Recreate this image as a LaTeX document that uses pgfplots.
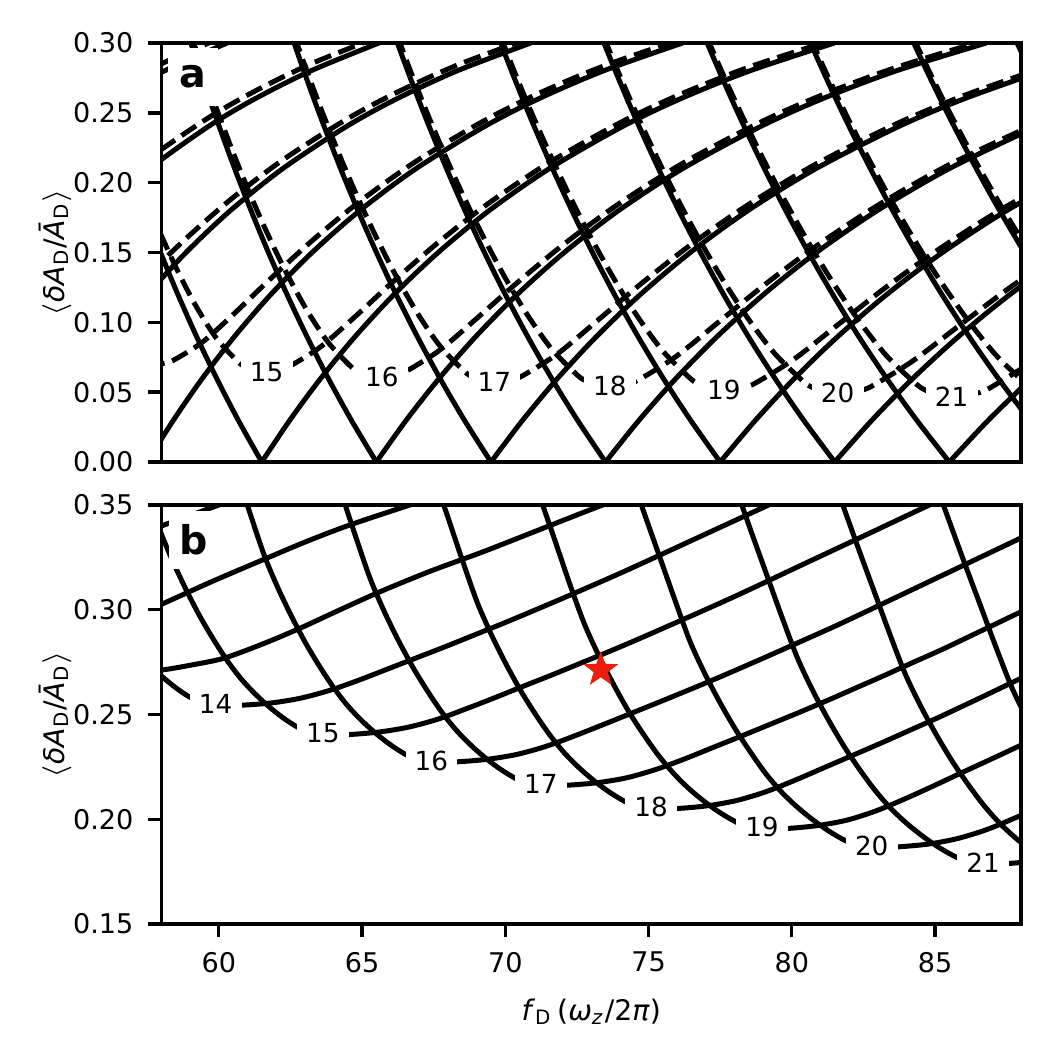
\documentclass[border=0pt]{standalone}
\usepackage{fontspec}
\setmainfont{DejaVu Sans}
\usepackage{pgfplots}
\pgfplotsset{compat=1.18}
\definecolor{starred}{RGB}{236,28,14}
\pgfdeclareplotmark{fstar}{%
 \pgfpathmoveto{\pgfpointpolar{90}{\pgfplotmarksize}}%
 \pgfpathlineto{\pgfpointpolar{126}{0.4\pgfplotmarksize}}%
 \pgfpathlineto{\pgfpointpolar{162}{\pgfplotmarksize}}%
 \pgfpathlineto{\pgfpointpolar{198}{0.4\pgfplotmarksize}}%
 \pgfpathlineto{\pgfpointpolar{234}{\pgfplotmarksize}}%
 \pgfpathlineto{\pgfpointpolar{270}{0.4\pgfplotmarksize}}%
 \pgfpathlineto{\pgfpointpolar{306}{\pgfplotmarksize}}%
 \pgfpathlineto{\pgfpointpolar{342}{0.4\pgfplotmarksize}}%
 \pgfpathlineto{\pgfpointpolar{18}{\pgfplotmarksize}}%
 \pgfpathlineto{\pgfpointpolar{54}{0.4\pgfplotmarksize}}%
 \pgfpathclose\pgfusepathqfillstroke}
\pgfplotsset{
 base/.style={scale only axis, width=206.28pt, height=100.56pt, xmin=58, xmax=88,
   axis line style={line width=0.8pt}, every tick/.style={black, line width=0.8pt},
   major tick length=3.2pt, tick align=outside, tick pos=left, scaled y ticks=false,
   /pgf/number format/assume math mode=true,
   tick label style={font=\fontsize{6.5}{7.8}\selectfont},
   yticklabel style={/pgf/number format/fixed, /pgf/number format/fixed zerofill, /pgf/number format/precision=2},
   label style={font=\fontsize{6.8}{8}\selectfont},
   ylabel style={at={(axis description cs:-0.124,0.5)}, anchor=center},
   ylabel={$\langle$\textit{δA}\textsubscript{D}/\textit{Ā}\textsubscript{D}$\rangle$}},
 sol/.style={black, line width=1.2pt, smooth, tension=0.5},
 dsh/.style={black, line width=1.2pt, smooth, tension=0.5, dash pattern=on 4.2pt off 1.9pt}
}
\tikzset{
 clab/.style={fill=white, inner xsep=2.2pt, inner ysep=0.8pt, font=\fontsize{6.3}{7}\selectfont},
 plab/.style={fill=white, inner sep=0pt, minimum width=12pt, minimum height=14pt, font=\bfseries\fontsize{9.5}{11}\selectfont}
}
\begin{document}
\begin{tikzpicture}
\path[use as bounding box] (-38.76pt,-33.12pt) rectangle (216.12pt,221.76pt);
% ---------------- panel a ----------------
\begin{axis}[base, at={(0pt,110.88pt)}, ymin=0, ymax=0.30,
  ytick={0,0.05,0.10,0.15,0.20,0.25,0.30}, xtick=\empty]
% solid R branches
\addplot[sol] coordinates {(54.800,0.24) (56.307,0.26) (58.097,0.28) (60.288,0.30)};
\addplot[sol] coordinates {(55.887,0.18) (57.575,0.21) (59.619,0.24) (61.257,0.26) (63.204,0.28) (65.588,0.30)};
\addplot[sol] coordinates {(55.294,0.06) (56.341,0.09) (57.517,0.12) (58.856,0.15) (60.403,0.18) (62.228,0.21) (64.437,0.24) (66.207,0.26) (68.311,0.28) (70.888,0.30)};
\addplot[sol] coordinates {(57.5,0) (58.417,0.03) (59.429,0.06) (60.553,0.09) (61.818,0.12) (63.256,0.15) (64.919,0.18) (66.881,0.21) (69.255,0.24) (71.157,0.26) (73.419,0.28) (76.188,0.30)};
\addplot[sol] coordinates {(61.5,0) (62.481,0.03) (63.563,0.06) (64.766,0.09) (66.118,0.12) (67.657,0.15) (69.435,0.18) (71.533,0.21) (74.072,0.24) (76.107,0.26) (78.526,0.28) (81.488,0.30)};
\addplot[sol] coordinates {(65.5,0) (66.545,0.03) (67.697,0.06) (68.978,0.09) (70.418,0.12) (72.057,0.15) (73.951,0.18) (76.186,0.21) (78.890,0.24) (81.058,0.26) (83.634,0.28) (86.788,0.30)};
\addplot[sol] coordinates {(69.5,0) (70.609,0.03) (71.831,0.06) (73.190,0.09) (74.719,0.12) (76.458,0.15) (78.468,0.18) (80.838,0.21) (83.708,0.24) (86.008,0.26) (88.741,0.28)};
\addplot[sol] coordinates {(73.5,0) (74.672,0.03) (75.965,0.06) (77.403,0.09) (79.019,0.12) (80.858,0.15) (82.984,0.18) (85.491,0.21) (88.526,0.24)};
\addplot[sol] coordinates {(77.5,0) (78.736,0.03) (80.099,0.06) (81.615,0.09) (83.319,0.12) (85.259,0.15) (87.500,0.18) (90.143,0.21)};
\addplot[sol] coordinates {(81.5,0) (82.800,0.03) (84.234,0.06) (85.828,0.09) (87.620,0.12) (89.659,0.15)};
\addplot[sol] coordinates {(85.5,0) (86.864,0.03) (88.368,0.06)};
% solid L branches
\addplot[sol] coordinates {(61.5,0) (60.678,0.03) (59.922,0.06) (59.221,0.09) (58.571,0.12) (57.963,0.15)};
\addplot[sol] coordinates {(65.5,0) (64.625,0.03) (63.819,0.06) (63.073,0.09) (62.380,0.12) (61.733,0.15) (61.126,0.18) (60.555,0.21) (60.018,0.24) (59.674,0.26) (59.344,0.28) (59.025,0.30)};
\addplot[sol] coordinates {(69.5,0) (68.571,0.03) (67.717,0.06) (66.925,0.09) (66.190,0.12) (65.503,0.15) (64.859,0.18) (64.253,0.21) (63.683,0.24) (63.319,0.26) (62.968,0.28) (62.629,0.30)};
\addplot[sol] coordinates {(73.5,0) (72.518,0.03) (71.614,0.06) (70.777,0.09) (69.999,0.12) (69.273,0.15) (68.592,0.18) (67.951,0.21) (67.348,0.24) (66.963,0.26) (66.592,0.28) (66.234,0.30)};
\addplot[sol] coordinates {(77.5,0) (76.465,0.03) (75.511,0.06) (74.629,0.09) (73.809,0.12) (73.043,0.15) (72.325,0.18) (71.650,0.21) (71.013,0.24) (70.607,0.26) (70.217,0.28) (69.838,0.30)};
\addplot[sol] coordinates {(81.5,0) (80.411,0.03) (79.409,0.06) (78.480,0.09) (77.618,0.12) (76.813,0.15) (76.057,0.18) (75.348,0.21) (74.678,0.24) (74.251,0.26) (73.841,0.28) (73.443,0.30)};
\addplot[sol] coordinates {(85.5,0) (84.358,0.03) (83.306,0.06) (82.332,0.09) (81.428,0.12) (80.583,0.15) (79.790,0.18) (79.046,0.21) (78.344,0.24) (77.896,0.26) (77.465,0.28) (77.047,0.30)};
\addplot[sol] coordinates {(89.5,0) (88.304,0.03) (87.203,0.06) (86.184,0.09) (85.237,0.12) (84.353,0.15) (83.523,0.18) (82.744,0.21) (82.008,0.24) (81.540,0.26) (81.089,0.28) (80.652,0.30)};
\addplot[sol] coordinates {(90.036,0.09) (89.047,0.12) (88.123,0.15) (87.256,0.18) (86.442,0.21) (85.674,0.24) (85.184,0.26) (84.713,0.28) (84.257,0.30)};
\addplot[sol] coordinates {(90.140,0.21) (89.339,0.24) (88.828,0.26) (88.337,0.28) (87.861,0.30)};
% dashed tongues
\addplot[dsh] coordinates {(56.307,0.26678) (58.097,0.28609) (60.288,0.30550)};
\addplot[dsh] coordinates {(55.887,0.18935) (57.575,0.21751) (59.619,0.24620) (61.257,0.26551) (63.204,0.28495) (65.588,0.30447)};
\addplot[dsh] coordinates {(56.341,0.10940) (57.517,0.13354) (58.856,0.16002) (60.403,0.18775) (62.228,0.21622) (64.437,0.24512) (66.207,0.26455) (68.311,0.28408) (70.888,0.30369)};
\addplot[dsh] coordinates {(57.5,0.06957) (57.796,0.06978) (58.102,0.07078) (58.417,0.07285) (59.429,0.08583) (60.553,0.10656) (61.818,0.13145) (63.256,0.15843) (64.919,0.18651) (66.881,0.21521) (69.255,0.24429) (71.157,0.26381) (73.419,0.28341) (76.188,0.30309)};
\addplot[dsh] coordinates {(57.963,0.16349) (58.571,0.13649) (59.221,0.11104) (59.922,0.08849) (60.678,0.07163) (60.945,0.06805) (61.218,0.06580) (61.5,0.06504) (61.817,0.06528) (62.144,0.06639) (62.481,0.06865) (63.563,0.08260) (64.766,0.10425) (66.118,0.12978) (67.657,0.15717) (69.435,0.18552) (71.533,0.21442) (74.072,0.24363) (76.107,0.26322) (78.526,0.28289) (81.488,0.30261)};
\addplot[dsh] coordinates {(59.025,0.30615) (59.344,0.28658) (59.674,0.26708) (60.018,0.24765) (60.555,0.21870) (61.126,0.19008) (61.733,0.16196) (62.380,0.13465) (63.073,0.10876) (63.819,0.08561) (64.625,0.06804) (64.909,0.06426) (65.200,0.06188) (65.5,0.06107) (65.837,0.06133) (66.186,0.06254) (66.545,0.06501) (67.697,0.07988) (68.978,0.10235) (70.418,0.12842) (72.057,0.15615) (73.951,0.18473) (76.186,0.21378) (78.890,0.24311) (81.058,0.26276) (83.634,0.28247) (86.788,0.30223)};
\addplot[dsh] coordinates {(62.629,0.30547) (62.968,0.28585) (63.319,0.26630) (63.683,0.24681) (64.253,0.21774) (64.859,0.18898) (65.503,0.16066) (66.190,0.13309) (66.925,0.10683) (67.717,0.08314) (68.571,0.06490) (68.872,0.06093) (69.182,0.05842) (69.5,0.05755) (69.858,0.05784) (70.228,0.05916) (70.609,0.06183) (71.831,0.07758) (73.190,0.10079) (74.719,0.12731) (76.458,0.15533) (78.468,0.18409) (80.838,0.21327) (83.708,0.24268) (86.008,0.26238) (88.741,0.28213)};
\addplot[dsh] coordinates {(66.234,0.30490) (66.592,0.28524) (66.963,0.26564) (67.348,0.24609) (67.951,0.21694) (68.592,0.18805) (69.273,0.15957) (69.999,0.13176) (70.777,0.10517) (71.614,0.08100) (72.518,0.06214) (72.836,0.05798) (73.163,0.05533) (73.5,0.05442) (73.879,0.05474) (74.270,0.05616) (74.672,0.05904) (75.965,0.07563) (77.403,0.09947) (79.019,0.12639) (80.858,0.15465) (82.984,0.18357) (85.491,0.21284) (88.526,0.24233)};
\addplot[dsh] coordinates {(69.838,0.30441) (70.217,0.28472) (70.607,0.26507) (71.013,0.24549) (71.650,0.21625) (72.325,0.18725) (73.043,0.15863) (73.809,0.13063) (74.629,0.10375) (75.511,0.07915) (76.465,0.05970) (76.800,0.05535) (77.145,0.05257) (77.5,0.05161) (77.899,0.05195) (78.311,0.05349) (78.736,0.05657) (80.099,0.07395) (81.615,0.09837) (83.319,0.12562) (85.259,0.15408) (87.500,0.18313) (90.143,0.21249)};
\addplot[dsh] coordinates {(73.443,0.30399) (73.841,0.28427) (74.251,0.26459) (74.678,0.24497) (75.348,0.21566) (76.057,0.18657) (76.813,0.15783) (77.618,0.12965) (78.480,0.10251) (79.409,0.07752) (80.411,0.05752) (80.764,0.05300) (81.127,0.05009) (81.5,0.04908) (81.920,0.04945) (82.353,0.05110) (82.800,0.05438) (84.234,0.07250) (85.828,0.09744) (87.620,0.12498) (89.659,0.15361)};
\addplot[dsh] coordinates {(77.047,0.30362) (77.465,0.28388) (77.896,0.26418) (78.344,0.24452) (79.046,0.21515) (79.790,0.18598) (80.583,0.15713) (81.428,0.12880) (82.332,0.10143) (83.306,0.07608) (84.358,0.05558) (84.728,0.05088) (85.108,0.04784) (85.5,0.04678) (85.940,0.04718) (86.395,0.04895) (86.864,0.05243) (88.368,0.07125)};
\addplot[dsh] coordinates {(80.652,0.30331) (81.089,0.28354) (81.540,0.26381) (82.008,0.24413) (82.744,0.21470) (83.523,0.18547) (84.353,0.15652) (85.237,0.12805) (86.184,0.10049) (87.203,0.07482) (88.304,0.05383) (88.692,0.04896)};
\addplot[dsh] coordinates {(84.257,0.30303) (84.713,0.28325) (85.184,0.26350) (85.674,0.24378) (86.442,0.21431) (87.256,0.18501) (88.123,0.15598) (89.047,0.12740)};
\addplot[dsh] coordinates {(87.861,0.30279) (88.337,0.28299) (88.828,0.26322)};
\node[clab] at (axis cs:61.67,0.0647) {15};
\node[clab] at (axis cs:65.69,0.0611) {16};
\node[clab] at (axis cs:69.62,0.0575) {17};
\node[clab] at (axis cs:73.65,0.0544) {18};
\node[clab] at (axis cs:77.63,0.0516) {19};
\node[clab] at (axis cs:81.60,0.0492) {20};
\node[clab] at (axis cs:85.58,0.0468) {21};
\node[plab] at (axis cs:59.10,0.2757) {a};
\end{axis}
% ---------------- panel b ----------------
\begin{axis}[base, at={(0pt,0pt)}, ymin=0.15, ymax=0.35,
  ytick={0.15,0.20,0.25,0.30,0.35}, xtick={60,65,70,75,80,85},
  xlabel style={at={(axis description cs:0.5,-0.209)}, anchor=center},
  xlabel={\textit{f}\textsubscript{D}\,(\textit{ω}\textsubscript{\textit{z}}/2\textit{π})}]
\addplot[sol] coordinates {(57.0,0.335) (58.5,0.3425) (60.0,0.350) (61.5,0.3575)};
\addplot[sol] coordinates {(56.0,0.2905) (57.95,0.3023) (59.8,0.3137) (61.67,0.3246) (63.1,0.3328) (64.58,0.3405) (66.67,0.35) (68.5,0.358)};
\addplot[sol] coordinates {(56.02,0.2695) (57,0.2699) (58,0.2712) (59,0.2735) (60.16,0.2768) (61.5,0.2835) (62.84,0.2912) (64.2,0.2998) (65.63,0.3086) (67.4,0.3185) (69.23,0.3277) (71.3,0.3388) (73.3,0.3495) (75.3,0.3597)};
\addplot[sol] coordinates {(57.565,0.274) (58.03,0.268) (58.495,0.2628) (58.96,0.2585) (59.425,0.2552) (59.89,0.254) (60.89,0.2545) (61.89,0.2556) (62.89,0.2579) (63.89,0.2616) (64.89,0.2664) (65.89,0.2717) (66.89,0.2770) (67.89,0.2823) (68.89,0.2878) (69.89,0.2933) (70.89,0.2990) (71.89,0.3048) (72.89,0.3107) (73.89,0.3167) (74.89,0.3229) (76.89,0.3355) (78.89,0.3481) (80.89,0.3607)};
\addplot[sol] coordinates {(57.455,0.358) (57.93,0.3385) (58.405,0.3228) (58.88,0.3090) (59.355,0.2965) (59.83,0.2855) (60.305,0.2755) (60.78,0.2670) (61.255,0.2600) (61.73,0.2540) (62.205,0.2488) (62.68,0.2445) (63.155,0.2412) (63.63,0.2400) (64.63,0.2405) (65.63,0.2417) (66.63,0.2440) (67.63,0.2477) (68.63,0.2527) (69.63,0.2580) (70.63,0.2635) (71.63,0.2689) (72.63,0.2745) (73.63,0.2801) (74.63,0.2859) (75.63,0.2919) (76.63,0.2979) (77.63,0.3040) (78.63,0.3103) (80.63,0.3232) (82.63,0.3360) (84.63,0.3489) (86.63,0.3618)};
\addplot[sol] coordinates {(60.63,0.3655) (61.115,0.3450) (61.60,0.3255) (62.085,0.3098) (62.57,0.2960) (63.055,0.2835) (63.54,0.2725) (64.025,0.2625) (64.51,0.2540) (64.995,0.2470) (65.48,0.2410) (65.965,0.2358) (66.45,0.2315) (66.935,0.2282) (67.42,0.2270) (68.42,0.2275) (69.42,0.2287) (70.42,0.2310) (71.42,0.2348) (72.42,0.2398) (73.42,0.2452) (74.42,0.2507) (75.42,0.2562) (76.42,0.2618) (77.42,0.2675) (78.42,0.2734) (79.42,0.2794) (80.42,0.2855) (81.42,0.2916) (82.42,0.2980) (84.42,0.3110) (86.42,0.3240) (88.42,0.3370)};
\addplot[sol] coordinates {(64.31,0.3543) (64.805,0.3338) (65.30,0.3143) (65.795,0.2986) (66.29,0.2848) (66.785,0.2723) (67.28,0.2613) (67.775,0.2513) (68.27,0.2428) (68.765,0.2358) (69.26,0.2298) (69.755,0.2246) (70.25,0.2203) (70.745,0.2170) (71.24,0.2158) (72.24,0.2163) (73.24,0.2175) (74.24,0.2198) (75.24,0.2237) (76.24,0.2287) (77.24,0.2342) (78.24,0.2397) (79.24,0.2453) (80.24,0.2509) (81.24,0.2567) (82.24,0.2627) (83.24,0.2687) (84.24,0.2749) (85.24,0.2810) (86.24,0.2875) (88.24,0.3006)};
\addplot[sol] coordinates {(67.515,0.3637) (68.02,0.3432) (68.525,0.3227) (69.03,0.3032) (69.535,0.2875) (70.04,0.2737) (70.545,0.2612) (71.05,0.2502) (71.555,0.2402) (72.06,0.2317) (72.565,0.2247) (73.07,0.2187) (73.575,0.2135) (74.08,0.2092) (74.585,0.2059) (75.09,0.2047) (76.09,0.2052) (77.09,0.2065) (78.09,0.2090) (79.09,0.2131) (80.09,0.2185) (81.09,0.2244) (82.09,0.2303) (83.09,0.2362) (84.09,0.2423) (85.09,0.2484) (86.09,0.2548) (87.09,0.2613) (88.09,0.2679)};
\addplot[sol] coordinates {(71.20,0.3541) (71.72,0.3336) (72.23,0.3131) (72.75,0.2936) (73.27,0.2779) (73.79,0.2641) (74.30,0.2516) (74.82,0.2406) (75.34,0.2306) (75.86,0.2221) (76.37,0.2151) (76.89,0.2091) (77.41,0.2039) (77.93,0.1996) (78.44,0.1963) (78.96,0.1951) (79.96,0.1957) (80.96,0.1971) (81.96,0.1997) (82.96,0.2041) (83.96,0.2098) (84.96,0.2160) (85.96,0.2224) (86.96,0.2287) (87.96,0.2351) (88.96,0.2417)};
\addplot[sol] coordinates {(74.34,0.3663) (74.87,0.3453) (75.40,0.3248) (75.93,0.3043) (76.45,0.2848) (76.98,0.2691) (77.51,0.2553) (78.04,0.2428) (78.57,0.2318) (79.09,0.2218) (79.62,0.2133) (80.15,0.2063) (80.68,0.2003) (81.21,0.1951) (81.73,0.1908) (82.26,0.1875) (82.79,0.1863) (83.79,0.1869) (84.79,0.1882) (85.79,0.1908) (86.79,0.1950) (87.79,0.2006) (88.79,0.2067)};
\addplot[sol] coordinates {(78.04,0.3584) (78.58,0.3374) (79.12,0.3169) (79.66,0.2964) (80.20,0.2769) (80.74,0.2612) (81.28,0.2474) (81.82,0.2349) (82.36,0.2239) (82.90,0.2139) (83.44,0.2054) (83.98,0.1984) (84.52,0.1924) (85.06,0.1872) (85.60,0.1829) (86.14,0.1796) (86.68,0.1784) (87.68,0.1790) (88.68,0.1803)};
\addplot[sol] coordinates {(81.75,0.3512) (82.30,0.3302) (82.85,0.3097) (83.40,0.2892) (83.95,0.2697) (84.50,0.2540) (85.05,0.2402) (85.60,0.2277) (86.15,0.2167) (86.70,0.2067) (87.25,0.1982) (87.80,0.1912) (88.35,0.1852) (88.90,0.1800)};
\addplot[sol] coordinates {(84.88,0.3654) (85.44,0.3444) (86.00,0.3234) (86.56,0.3029) (87.12,0.2824) (87.68,0.2629) (88.24,0.2472) (88.80,0.2334)};
\addplot[only marks, mark=fstar, mark size=4pt, mark options={fill=starred, draw=starred, line width=0.3pt}] coordinates {(73.33,0.2713)};
\node[clab] at (axis cs:59.89,0.2550) {14};
\node[clab] at (axis cs:63.63,0.2410) {15};
\node[clab] at (axis cs:67.42,0.2280) {16};
\node[clab] at (axis cs:71.24,0.2168) {17};
\node[clab] at (axis cs:75.09,0.2057) {18};
\node[clab] at (axis cs:78.96,0.1961) {19};
\node[clab] at (axis cs:82.79,0.1873) {20};
\node[clab] at (axis cs:86.68,0.1794) {21};
\node[plab] at (axis cs:59.13,0.3333) {b};
\end{axis}
\end{tikzpicture}
\end{document}
